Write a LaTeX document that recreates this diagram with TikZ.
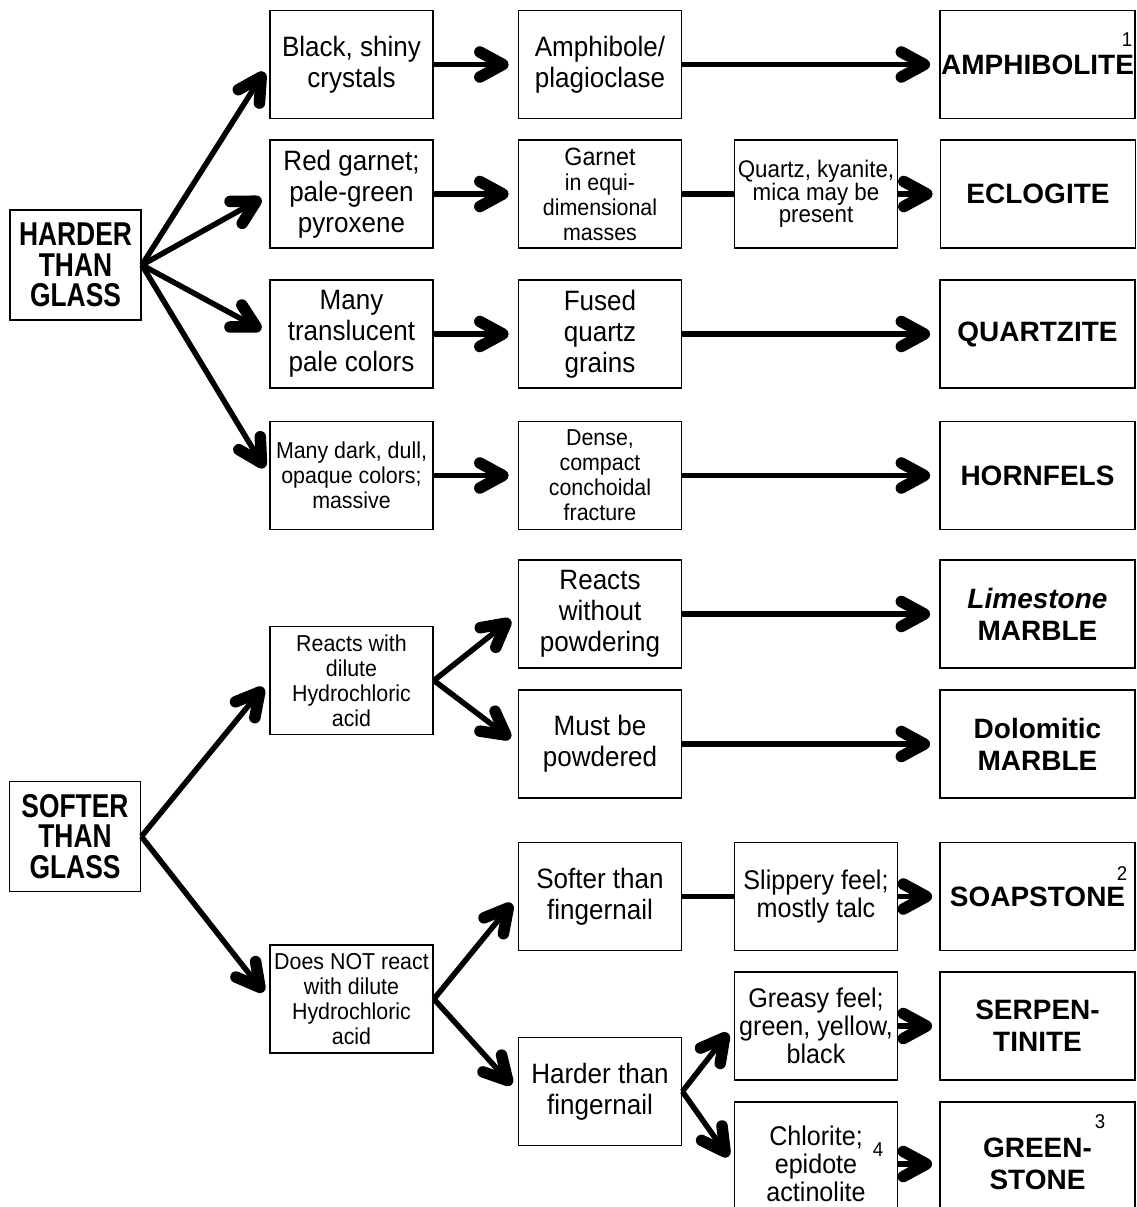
\documentclass[tikz,border=0pt]{standalone}
\usepackage{fontspec}
\setmainfont{Liberation Sans}
\newfontfamily\bxf[FakeStretch=0.93]{Liberation Sans}
\newfontfamily\ttlf[FakeStretch=0.8]{Liberation Sans}
\newfontfamily\rockf{Liberation Sans}
\usetikzlibrary{arrows.meta}
\begin{document}
\begin{tikzpicture}[x=1pt,y=-1pt,
 box/.style={draw, line width=1.8pt, rectangle, inner sep=0pt, align=center, minimum width=163pt, minimum height=108pt},
 bigt/.style={font=\bxf\fontsize{28}{31}\selectfont},
 midt/.style={font=\bxf\fontsize{27}{28}\selectfont},
 smallt/.style={font=\bxf\fontsize{23}{25}\selectfont},
 rock/.style={box, minimum width=195pt, font=\rockf\bfseries\fontsize{28}{32}\selectfont},
 ttlbox/.style={box, minimum width=131pt, minimum height=110pt, font=\ttlf\bfseries\fontsize{33}{30.5}\selectfont},
 arr/.style={line width=5.5pt, -{Straight Barb[length=23pt,width=25pt,line width=11.5pt,round]}, shorten >=9pt},
 link/.style={line width=5.5pt},
 supnote/.style={font=\bxf\fontsize{20}{20}\selectfont, inner sep=0pt}]
\clip (0,0) rectangle (1137,1207);
\fill[white] (0,0) rectangle (1137,1207);

% HARDER section
\node[ttlbox] (H) at (75.5,265) {HARDER\\THAN\\GLASS};
\node[box,bigt] (b11) at (351.5,64.5) {Black, shiny\\crystals};
\node[box,bigt] (b12) at (600,64.5) {Amphibole/\\plagioclase};
\node[rock] (b14) at (1037.5,64.5) {\raisebox{-8pt}{AMPHIBOLITE}};
\node[box,bigt] (b21) at (351.5,194) {Red garnet;\\pale-green\\pyroxene};
\node[box,smallt] (b22) at (600,194) {{\fontsize{25}{25}\selectfont Garnet}\\in equi-\\dimensional\\masses};
\node[box,font=\bxf\fontsize{24}{22.5}\selectfont] (b23) at (816,194) {Quartz, kyanite,\\mica may be\\present};
\node[rock] (b24) at (1038,194) {ECLOGITE};
\node[box,bigt] (b31) at (351.5,334) {Many\\translucent\\pale colors};
\node[box,bigt] (b32) at (600,334) {Fused\\quartz\\grains};
\node[rock] (b34) at (1037.5,334) {QUARTZITE};
\node[box,smallt] (b41) at (351.5,475.5) {Many dark, dull,\\opaque colors;\\massive};
\node[box,smallt] (b42) at (600,475.5) {Dense,\\compact\\conchoidal\\fracture};
\node[rock] (b44) at (1037.5,475.5) {HORNFELS};

% SOFTER section
\node[ttlbox] (S) at (75,836.5) {SOFTER\\THAN\\GLASS};
\node[box,smallt] (c1) at (351.5,680.5) {Reacts with\\dilute\\Hydrochloric\\acid};
\node[box,bigt] (c2a) at (600,614) {Reacts\\without\\powdering};
\node[box,bigt] (c2b) at (600,744) {Must be\\powdered};
\node[rock] (c4a) at (1037.5,614) {{\itshape Limestone}\\MARBLE};
\node[rock] (c4b) at (1037.5,744) {Dolomitic\\MARBLE};
\node[box,smallt] (d1) at (351.5,999) {Does NOT react\\with dilute\\Hydrochloric\\acid};
\node[box,bigt] (d2a) at (600,896.5) {Softer than\\fingernail};
\node[box,bigt] (d2b) at (600,1091.5) {Harder than\\fingernail};
\node[box,midt] (d3a) at (816,896.5) {Slippery feel;\\mostly talc};
\node[box,midt] (d3b) at (816,1026) {Greasy feel;\\green, yellow,\\black};
\node[box,midt,minimum height=124pt] (d3c) at (816,1164) {Chlorite;\\epidote\\actinolite};
\node[rock] (d4a) at (1037.5,896.5) {\raisebox{-6pt}{SOAPSTONE}};
\node[rock] (d4b) at (1037.5,1026) {SERPEN-\\TINITE};
\node[rock,minimum height=124pt] (d4c) at (1037.5,1164) {GREEN-\\STONE};

% footnote marks
\node[supnote] (n1) at (1127,40) {1};
\node[supnote] (n2) at (1122,874) {2};
\node[supnote] (n3) at (1100,1122) {3};
\node[supnote] (n4) at (878,1150) {4};

% connectors
\draw[arr] (H.east) -- (b11.west);
\draw[arr] (H.east) -- (b21.west);
\draw[arr] (H.east) -- (b31.west);
\draw[arr] (H.east) -- (b41.west);
\draw[arr] (b11.east) -- (b12.west);
\draw[arr] (b12.east) -- (b14.west);
\draw[arr] (b21.east) -- (b22.west);
\draw[link] (b22.east) -- (b23.west);
\draw[arr,shorten >=7pt] (b23.east) -- (b24.west);
\draw[arr] (b31.east) -- (b32.west);
\draw[arr] (b32.east) -- (b34.west);
\draw[arr] (b41.east) -- (b42.west);
\draw[arr] (b42.east) -- (b44.west);

\draw[arr] (S.east) -- (c1.west);
\draw[arr] (S.east) -- (d1.west);
\draw[arr] (c1.east) -- (c2a.west);
\draw[arr] (c1.east) -- (c2b.west);
\draw[arr] (c2a.east) -- (c4a.west);
\draw[arr] (c2b.east) -- (c4b.west);
\draw[arr] (d1.east) -- (d2a.west);
\draw[arr] (d1.east) -- (d2b.west);
\draw[link] (d2a.east) -- (d3a.west);
\draw[arr] (d2b.east) -- (d3b.west);
\draw[arr] (d2b.east) -- (d3c.west);
\draw[arr,shorten >=7pt] (d3a.east) -- (d4a.west);
\draw[arr,shorten >=7pt] (d3b.east) -- (d4b.west);
\draw[arr,shorten >=7pt] (d3c.east) -- (d4c.west);
\end{tikzpicture}
\end{document}
